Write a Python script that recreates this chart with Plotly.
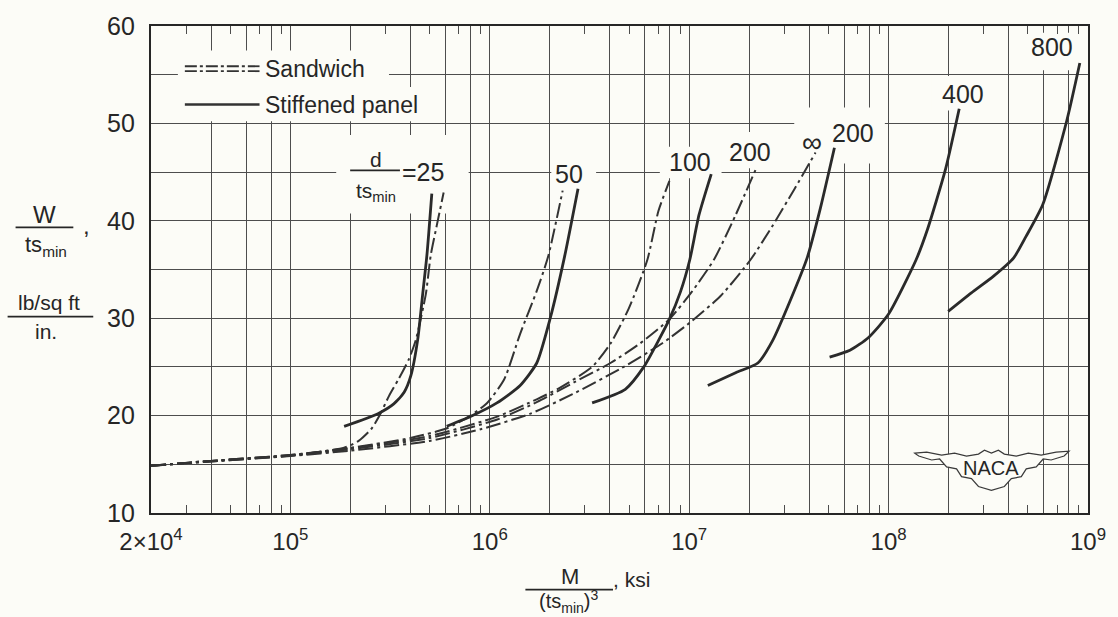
import math
import plotly.graph_objects as go

# ---------------- data ----------------
# x: M/(ts_min)^3, ksi ; y: W/ts_min, (lb/sq ft)/in.
# Sandwich curves (dash-dot), d/ts_min = 25, 50, 100, 200, infinity
x_s25 = [2e4, 4e4, 1e5, 1.86e5, 2.2e5, 2.54e5, 2.8e5, 3.12e5, 3.5e5, 3.93e5, 4.26e5, 4.78e5, 5.06e5, 5.42e5, 5.87e5]
w_s25 = [14.85, 15.3, 15.9, 16.7, 17.4, 18.6, 20.0, 22.0, 23.8, 25.8, 27.8, 32.5, 36.5, 39.5, 42.9]

x_s50 = [2e4, 4e4, 1e5, 2e5, 4e5, 6.1e5, 8.0e5, 9.7e5, 1.18e6, 1.42e6, 1.72e6, 1.96e6, 2.32e6]
w_s50 = [14.85, 15.35, 15.95, 16.7, 17.7, 18.7, 20.0, 21.3, 23.7, 28.4, 32.8, 36.3, 43.1]

x_s100 = [2e4, 4e4, 1e5, 2e5, 5e5, 1.09e6, 1.73e6, 2.22e6, 3.26e6, 4.03e6, 4.98e6, 6.17e6, 7.01e6, 7.96e6]
w_s100 = [14.85, 15.35, 15.95, 16.65, 17.9, 19.9, 21.7, 22.8, 25.0, 27.4, 31.0, 36.0, 41.0, 44.1]

x_s200 = [2e4, 4e4, 1e5, 2e5, 5e5, 1.09e6, 1.73e6, 2.64e6, 4.03e6, 5.66e6, 7.96e6, 1.03e7, 1.33e7, 1.71e7, 2.19e7]
w_s200 = [14.85, 15.35, 15.9, 16.55, 17.7, 19.6, 21.4, 23.4, 25.4, 27.4, 29.9, 32.7, 36.0, 40.6, 45.6]

x_sinf = [2e4, 4e4, 1e5, 2e5, 5e5, 9e5, 1.6e6, 2.6e6, 4.6e6, 7.3e6, 1.03e7, 1.44e7, 2.03e7, 2.62e7, 3.38e7, 4.3e7]
w_sinf = [14.85, 15.3, 15.85, 16.4, 17.4, 18.6, 20.2, 22.2, 24.9, 27.4, 29.7, 32.3, 36.0, 39.5, 43.3, 47.0]

# Stiffened-panel curves (solid), d/ts_min = 25, 50, 100, 200, 400, 800
x_t25 = [1.86e5, 2.75e5, 3.3e5, 3.72e5, 4.02e5, 4.35e5, 4.61e5, 4.84e5, 5.12e5]
w_t25 = [18.9, 20.2, 21.2, 22.4, 24.1, 27.8, 32.5, 36.5, 42.8]

x_t50 = [6.08e5, 8.0e5, 1.086e6, 1.42e6, 1.72e6, 2.01e6, 2.37e6, 2.77e6]
w_t50 = [18.9, 19.9, 21.3, 23.1, 25.4, 30.0, 36.3, 43.3]

x_t100 = [3.26e6, 4.78e6, 5.92e6, 7.01e6, 7.96e6, 9.04e6, 1.007e7, 1.12e7, 1.29e7]
w_t100 = [21.3, 22.7, 25.0, 27.7, 29.9, 32.7, 36.0, 40.6, 44.8]

x_t200 = [1.24e7, 1.71e7, 2.21e7, 2.62e7, 3.24e7, 3.92e7, 4.55e7, 5.35e7]
w_t200 = [23.1, 24.4, 25.4, 27.7, 32.0, 36.3, 41.3, 47.5]

x_t400 = [5.06e7, 6.4e7, 7.91e7, 9.98e7, 1.374e8, 1.56e8, 1.93e8, 2.26e8]
w_t400 = [26.0, 26.7, 28.0, 30.4, 36.0, 39.0, 45.3, 51.5]

x_t800 = [1.99e8, 2.6e8, 3.35e8, 4.24e8, 4.89e8, 5.94e8, 7.83e8, 9.1e8]
w_t800 = [30.7, 32.6, 34.3, 36.2, 38.4, 41.7, 50.3, 56.2]

curve_labels = ["800", "400", "200", "\u221e", "200", "100", "50"]
x_tick_labels = {2e4: "2\u00d710<sup>4</sup>", 1e5: "10<sup>5</sup>", 1e6: "10<sup>6</sup>",
                 1e7: "10<sup>7</sup>", 1e8: "10<sup>8</sup>", 1e9: "10<sup>9</sup>"}
y_tick_labels = {10: "10", 20: "20", 30: "30", 40: "40", 50: "50", 60: "60"}

# ---------------- layout helpers ----------------
FW, FH = 1118, 617
L, R, T, B = 151, 1092, 17, 513
XLO, XHI = math.log10(2e4), 9.0
YLO, YHI = 10.0, 60.0
BG = "#fcfcf7"
INK = "#262626"
GRID = "#4d4d4d"
FONT = "Liberation Sans"


def px(x):
    return (x - L) / (R - L)


def py(y):
    return (B - y) / (B - T)


def dx(p):  # screen x -> axis value (for background masks only)
    return 10 ** (XLO + (p - L) / (R - L) * (XHI - XLO))


def dy(p):
    return YHI - (p - T) / (B - T) * (YHI - YLO)


SAND_DASH = "15px,4px,3px,4px"

fig = go.Figure()

# background masks that break the gridlines behind the labels (drawn before the curves)
mask_boxes = [(178, 42, 390, 79), (178, 79, 442, 114),          # legend rows
              (1028, 24, 1086, 62), (935, 68, 997, 103), (797, 100, 888, 157),
              (727, 125, 781, 162), (662, 140, 724, 172), (553, 150, 598, 184),
              (337, 128, 470, 208)]
for x0, y0, x1, y1 in mask_boxes:
    fig.add_trace(go.Scatter(x=[dx(x0), dx(x1), dx(x1), dx(x0), dx(x0)],
                             y=[dy(y0), dy(y0), dy(y1), dy(y1), dy(y0)],
                             mode="lines", fill="toself", fillcolor=BG, line=dict(width=0, color=BG),
                             showlegend=False, hoverinfo="skip"))

for xs, ws in [(x_s25, w_s25), (x_s50, w_s50), (x_s100, w_s100), (x_s200, w_s200), (x_sinf, w_sinf)]:
    fig.add_trace(go.Scatter(x=xs, y=ws, mode="lines", showlegend=False, hoverinfo="skip",
                             line=dict(color="#333333", width=2.0, dash=SAND_DASH, shape="spline", smoothing=0.6)))
for xs, ws in [(x_t25, w_t25), (x_t50, w_t50), (x_t100, w_t100), (x_t200, w_t200), (x_t400, w_t400), (x_t800, w_t800)]:
    fig.add_trace(go.Scatter(x=xs, y=ws, mode="lines", showlegend=False, hoverinfo="skip",
                             line=dict(color="#2a2a2a", width=2.8, shape="spline", smoothing=0.6)))

# grid and tick positions
grid_x, minor_x = [], []
for e in range(4, 9):
    for m in (1, 2, 4, 6, 8):
        v = m * 10 ** e
        if 2e4 <= v <= 1e9:
            grid_x.append(v)
    for m in (3, 5, 7, 9):
        minor_x.append(m * 10 ** e)
grid_x.append(1e9)
grid_text = [x_tick_labels.get(v, "") for v in grid_x]

grid_y = list(range(10, 61, 5))
grid_y_text = [y_tick_labels.get(v, "") for v in grid_y]

fig.update_xaxes(type="log", range=[XLO, XHI], tickmode="array", tickvals=grid_x, ticktext=grid_text,
                 showgrid=True, gridcolor=GRID, gridwidth=1.2, ticks="", showline=True, linecolor=INK,
                 linewidth=2.2, mirror="ticks", zeroline=False, ticklabelstandoff=6,
                 tickfont=dict(family=FONT, size=24, color=INK),
                 minor=dict(tickmode="array", tickvals=minor_x, ticks="inside", ticklen=8, tickwidth=1.2,
                            tickcolor=GRID, showgrid=False))
fig.update_yaxes(range=[YLO, YHI], tickmode="array", tickvals=grid_y, ticktext=grid_y_text,
                 showgrid=True, gridcolor=GRID, gridwidth=1.2, ticks="", showline=True, linecolor=INK,
                 linewidth=2.2, mirror=True, zeroline=False, ticklabelstandoff=9,
                 tickfont=dict(family=FONT, size=25, color=INK))

shapes = []
annotations = []


def hline(x0, x1, y, width=1.6, dash=None, color=INK):
    ln = dict(color=color, width=width)
    if dash:
        ln["dash"] = dash
    shapes.append(dict(type="line", xref="paper", yref="paper", x0=px(x0), x1=px(x1), y0=py(y), y1=py(y),
                       line=ln, layer="above"))


def text(t, x, y, size=24, xanchor="center", yanchor="middle"):
    annotations.append(dict(text=t, x=px(x), y=py(y), xref="paper", yref="paper", showarrow=False,
                            xanchor=xanchor, yanchor=yanchor, font=dict(family=FONT, size=size, color=INK)))


# legend
hline(185, 260, 58, width=1.8, dash="12px,3px,3px,3px", color="#333333")
hline(185, 260, 63, width=1.8, dash="12px,3px,3px,3px", color="#333333")
text("Sandwich", 263, 61, size=23, xanchor="left")
hline(185, 260, 97, width=2.4, color="#333333")
text("Stiffened panel", 263, 97, size=23, xanchor="left")

# curve labels
label_pos = [(1056, 38), (966, 86), (856, 126), (815, 136), (753, 145), (692, 156), (571, 168)]
for lab, (lx, ly) in zip(curve_labels, label_pos):
    text(lab, lx, ly, size=28 if lab == "\u221e" else 25)

# d/ts_min = 25 label
text("d", 377, 153, size=21)
hline(351, 401, 164, width=1.6)
text("ts<sub>min</sub>", 377, 186, size=21)
text("=25", 401, 166, size=25, xanchor="left")

# y-axis title
text("W", 44, 209, size=24)
hline(15, 73, 222, width=1.8)
text("ts<sub>min</sub>", 46, 241, size=22)
text(",", 86, 220, size=24)
text("lb/sq ft", 49, 299, size=21)
hline(7, 93, 313, width=1.8)
text("in.", 46, 328, size=21)

# x-axis title
text("M", 572, 578, size=22)
hline(527, 615, 591, width=1.8)
text("(ts<sub>min</sub>)<sup>3</sup>", 570, 603, size=20)
text(", ksi", 613, 581, size=21, xanchor="left")

# NACA wing logo
logo = [(918, 452), (930, 451), (945, 454), (958, 452), (970, 455), (982, 453), (988, 449), (995, 452),
        (1002, 449), (1008, 453), (1020, 455), (1032, 452), (1045, 454), (1060, 451), (1073, 450),
        (1068, 455), (1055, 459), (1047, 458), (1040, 466), (1030, 468), (1025, 476), (1015, 478),
        (1008, 486), (995, 490), (982, 486), (975, 478), (965, 476), (960, 468), (950, 466),
        (943, 458), (935, 459), (922, 455)]
path = "M " + " L ".join(f"{px(a):.5f},{py(b):.5f}" for a, b in logo) + " Z"
shapes.append(dict(type="path", xref="paper", yref="paper", path=path, fillcolor=BG,
                   line=dict(color="#3a3a3a", width=1.2), layer="above"))
text("NACA", 995, 467, size=20)

fig.update_layout(width=FW, height=FH, margin=dict(l=L, r=FW - R, t=T, b=FH - B),
                  paper_bgcolor=BG, plot_bgcolor=BG, showlegend=False,
                  shapes=shapes, annotations=annotations, font=dict(family=FONT, color=INK))

fig.write_html("out.html")
